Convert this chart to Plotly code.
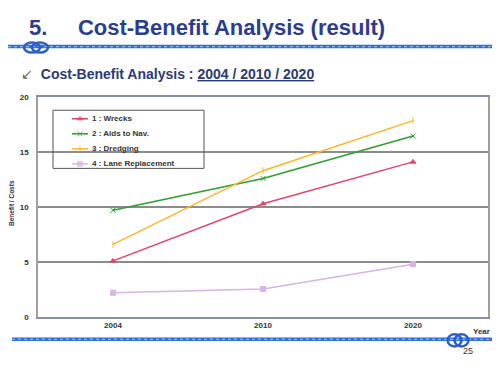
import plotly.graph_objects as go

years = ["2004", "2010", "2020"]
wrecks = [5.1, 10.3, 14.1]
aids = [9.7, 12.6, 16.45]
dredging = [6.6, 13.3, 17.85]
lane = [2.2, 2.55, 4.8]
series_names = ["1 : Wrecks", "2 : Aids to Nav.", "3 : Dredging", "4 : Lane Replacement"]
y_ticks = [0, 5, 10, 15, 20]

L, R, T, B = 38, 488, 97.3, 316.7
W, H = R - L, B - T
FONT = "Liberation Sans, Arial, sans-serif"

def px(x):
    return (x - L) / W

def py(y):
    return (B - y) / H

fig = go.Figure()
styles = [
    (wrecks, "#e8406e", "triangle-up"),
    (aids, "#2e9e2e", "x-thin"),
    (dredging, "#ffb428", "line-ns"),
    (lane, "#d6b4e4", "square"),
]
for (vals, col, sym), name in zip(styles, series_names):
    fig.add_trace(go.Scatter(
        x=years, y=vals, name=name, mode="lines+markers", showlegend=False,
        line=dict(color=col, width=1.5),
        marker=dict(symbol=sym, size=5, color=col, line=dict(color=col, width=1)),
    ))

# manual legend (pixel overlay axes)
leg_y = [119, 134, 149, 164]
for ((vals, col, sym), name, ly) in zip(styles, series_names, leg_y):
    fig.add_trace(go.Scatter(
        x=[72, 80, 88], y=[ly, ly, ly], xaxis="x2", yaxis="y2", showlegend=False,
        mode="lines+markers", line=dict(color=col, width=1.5),
        marker=dict(symbol=sym, size=[0, 5, 0], color=col, line=dict(color=col, width=1)),
        hoverinfo="skip",
    ))
    fig.add_annotation(xref="x2", yref="y2", x=90, y=ly, xanchor="left", yanchor="middle",
                       showarrow=False, text="<b>" + name + "</b>",
                       font=dict(size=8, color="#333333", family=FONT))
fig.add_shape(type="rect", xref="x2", yref="y2", x0=53, x1=204, y0=110.5, y1=168.5,
              line=dict(color="#555555", width=1), fillcolor="rgba(0,0,0,0)", layer="above")

fig.update_layout(
    width=500, height=372,
    margin=dict(l=L, r=500 - R, t=T, b=372 - B, autoexpand=False),
    paper_bgcolor="white", plot_bgcolor="white",
    font=dict(family=FONT, color="#333333"),
    showlegend=False,
    xaxis=dict(
        type="category", range=[-0.5, 2.5], automargin=False,
        showgrid=False, showline=True, linecolor="#8a8fa8", linewidth=1.5, mirror=True,
        ticks="", tickfont=dict(size=8, color="#333333", weight=700),
    ),
    yaxis=dict(
        range=[0, 20], tickvals=y_ticks, automargin=False,
        showgrid=True, gridcolor="#8c8c8c", gridwidth=1.5,
        showline=True, linecolor="#a0a0a0", linewidth=1.5, mirror=True,
        ticks="", ticklabelstandoff=6, zeroline=False,
        tickfont=dict(size=8, color="#333333", weight=700),
    ),
    xaxis2=dict(range=[L, R], overlaying="x", visible=False, fixedrange=True),
    yaxis2=dict(range=[B, T], overlaying="y", visible=False, fixedrange=True),
)

def ann(x, y, text, size, color, anchor="left", **kw):
    fig.add_annotation(xref="paper", yref="paper", x=px(x), y=py(y),
                       xanchor=anchor, yanchor="middle", showarrow=False,
                       text=text, font=dict(size=size, color=color, family=FONT), **kw)

ann(27, 28, "<b>5.&nbsp;&nbsp;&nbsp;&nbsp;&nbsp;Cost-Benefit Analysis (result)</b>", 22, "#2b3d8c")
ann(19, 74, "<span style='color:#666'>↙</span>&nbsp;&nbsp;<b>Cost-Benefit Analysis : <u>2004 / 2010 / 2020</u></b>",
    14, "#2b3a78")
ann(12, 203, "<b>Benefit / Costs</b>", 6.5, "#333333", anchor="center", textangle=-90)
ann(481, 331, "<b>Year</b>", 8, "#333333", anchor="center")
ann(468, 351, "25", 9, "#333333", anchor="center")

# Rope decorations
def rope(x0, x1, y):
    fig.add_shape(type="line", xref="paper", yref="paper",
                  x0=px(x0), x1=px(x1), y0=py(y), y1=py(y),
                  line=dict(color="#2f6fd6", width=3.5), layer="above")
    fig.add_shape(type="line", xref="paper", yref="paper",
                  x0=px(x0), x1=px(x1), y0=py(y), y1=py(y),
                  line=dict(color="#8ab8f0", width=1.2, dash="dot"), layer="above")

def knot(cx, cy, rx, ry):
    for dx in (-rx * 0.5, rx * 0.5):
        fig.add_shape(type="circle", xref="paper", yref="paper",
                      x0=px(cx + dx - rx), x1=px(cx + dx + rx),
                      y0=py(cy + ry), y1=py(cy - ry),
                      line=dict(color="#2a5fc8", width=2.5), layer="above")

rope(8, 492, 47)
knot(36, 48, 8, 5)
rope(12, 492, 339)
knot(458, 340, 7, 6)

fig.write_html("out.html", config={"displayModeBar": False},
               post_script="document.body.style.margin='0';document.body.style.padding='0';")
